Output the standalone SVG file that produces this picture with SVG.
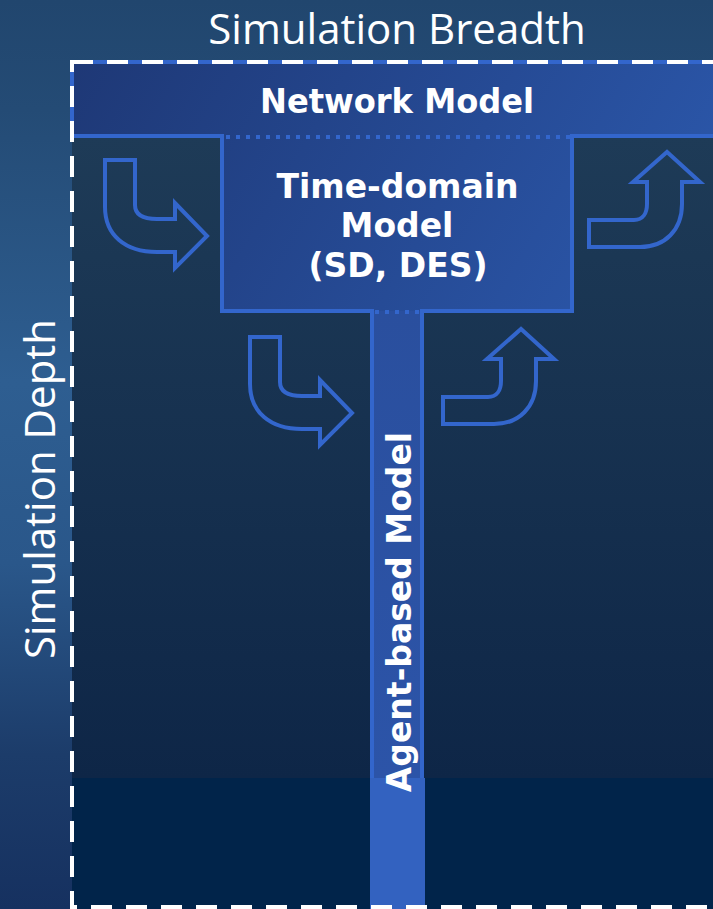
<svg xmlns="http://www.w3.org/2000/svg" width="713" height="909" viewBox="0 0 713 909">
<defs>
<linearGradient id="outerBg" gradientUnits="userSpaceOnUse" x1="0" y1="0" x2="0" y2="909">
<stop offset="0" stop-color="#21466e"/>
<stop offset="0.12" stop-color="#244b75"/>
<stop offset="0.42" stop-color="#2e5e91"/>
<stop offset="0.62" stop-color="#2a578a"/>
<stop offset="0.83" stop-color="#1c3c6a"/>
<stop offset="1" stop-color="#163160"/>
</linearGradient>
<linearGradient id="innerBg" gradientUnits="userSpaceOnUse" x1="0" y1="136" x2="0" y2="778">
<stop offset="0" stop-color="#1e3b57"/>
<stop offset="1" stop-color="#0e2647"/>
</linearGradient>
<linearGradient id="tFill" gradientUnits="userSpaceOnUse" x1="72" y1="62" x2="620" y2="380">
<stop offset="0" stop-color="#1e3876"/>
<stop offset="1" stop-color="#2b57aa"/>
</linearGradient>
<linearGradient id="abmFill" gradientUnits="userSpaceOnUse" x1="0" y1="311" x2="0" y2="778">
<stop offset="0" stop-color="#2a4f9e"/>
<stop offset="1" stop-color="#2c54a8"/>
</linearGradient>
<path id="arrowDown" d="M105,160 H135 V205 C135,214 142,219 157,219 H175 V203 L207,236 L175,268 V252 H157 C125,252 105,235 105,207 Z"/>
<path id="arrowUp" d="M589,220 H634 C643,220 647,213 647,204 V182 H633 L667,152 L700,182 H682 V204 C682,230 665,247 640,247 H589 Z"/>
</defs>
<style>
.arrow{fill:none;stroke:#3366cc;stroke-width:4;stroke-linejoin:miter}
.edge{fill:none;stroke:#3366cc;stroke-width:4}
.dots{fill:none;stroke:#3366cc;stroke-width:4;stroke-dasharray:4 6}
.axis{font-family:"Open Sans","DejaVu Sans",sans-serif;font-size:42px;fill:#ffffff;text-anchor:middle}
.lbl{font-family:"DejaVu Sans","Liberation Sans",sans-serif;font-weight:bold;font-size:33px;fill:#ffffff;text-anchor:middle}
</style>

<!-- backgrounds -->
<rect x="0" y="0" width="713" height="909" fill="url(#outerBg)"/>
<rect x="72" y="62" width="660" height="716" fill="url(#innerBg)"/>
<rect x="72" y="778" width="660" height="140" fill="#01244a"/>

<!-- axis labels -->
<text class="axis" x="397" y="44">Simulation Breadth</text>
<text class="axis" transform="translate(55,489) rotate(-90)">Simulation Depth</text>

<g id="network-model">
<rect x="72" y="62" width="660" height="74" fill="url(#tFill)"/>
<path class="edge" d="M72,62 H720 M72,62 V136"/>
<text class="lbl" x="397" y="113" font-size="31" textLength="274" lengthAdjust="spacingAndGlyphs">Network Model</text>
</g>

<g id="time-domain-model">
<rect x="222" y="136" width="350" height="175" fill="url(#tFill)"/>
<text class="lbl" x="397.5" y="198">Time-domain</text>
<text class="lbl" x="397" y="237">Model</text>
<text class="lbl" x="398" y="277">(SD, DES)</text>
</g>

<g id="agent-based-model">
<rect x="372" y="311" width="50" height="467" fill="url(#abmFill)"/>
<rect x="370" y="778" width="55" height="131" fill="#3362c0"/>
<text class="lbl" font-size="32" transform="translate(411,612) rotate(-90)">Agent-based Model</text>
</g>

<!-- T outline -->
<g id="outline">
<path class="edge" d="M72,136 H222 V311 H372 V778 M422,778 V311 H572 V136 H720"/>
<path class="dots" d="M226,137 H570"/>
<path class="dots" d="M375,312 H420"/>
</g>

<!-- dashed boundary -->
<rect x="72" y="62" width="700" height="845" fill="none" stroke="#ffffff" stroke-width="4" stroke-dasharray="21 14"/>

<g id="connectors">
<use href="#arrowDown" class="arrow"/>
<use href="#arrowDown" class="arrow" transform="translate(145,177)"/>
<use href="#arrowUp" class="arrow"/>
<use href="#arrowUp" class="arrow" transform="translate(-146,177)"/>
</g>
</svg>
